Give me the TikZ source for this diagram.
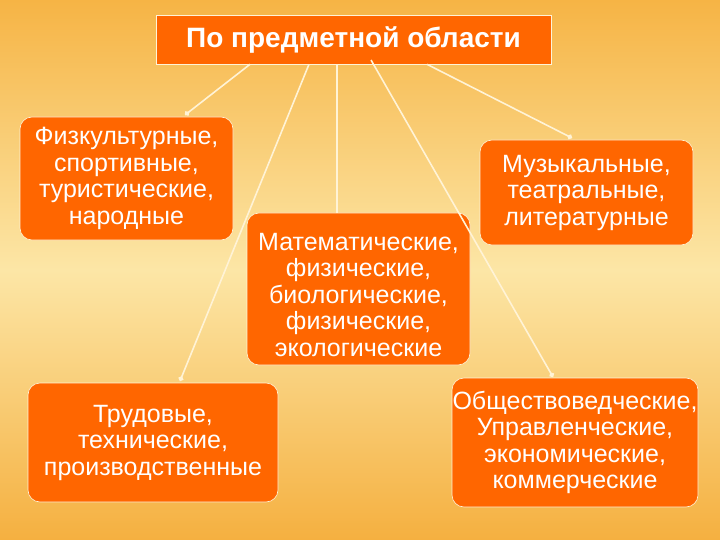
\documentclass[tikz,border=0pt]{standalone}
\usepackage{fontspec}
\setmainfont{Liberation Sans}
\usetikzlibrary{arrows.meta}
\definecolor{bgtop}{HTML}{F6B445}
\definecolor{bgmid}{HTML}{FCE6A6}
\definecolor{bgbot}{HTML}{F5B040}
\definecolor{boxor}{HTML}{FF6600}
\definecolor{lineC}{HTML}{FFF3D6}
\tikzset{
 box/.style={draw=lineC, line width=0.6pt, fill=boxor, rounded corners=12pt, text=white, align=center, font=\fontsize{25}{26.5}\selectfont, inner sep=0pt},
 conn/.style={draw=lineC, line width=1.6pt, -{Circle[length=5pt]}},
}
\begin{document}
\begin{tikzpicture}[x=1pt,y=-1pt]
\shade[top color=bgtop, bottom color=bgbot, middle color=bgmid] (0,0) rectangle (720,540);
\useasboundingbox (0,0) rectangle (720,540);
\node[box, rounded corners=0pt, minimum width=395pt, minimum height=49pt, font=\bfseries\fontsize{28}{30}\selectfont] (top) at (353.5,39.5) {По предметной области};
\node[box, minimum width=213pt, minimum height=123pt] (a) at (126.5,178.5) {Физкультурные,\\спортивные,\\туристические,\\народные};
\node[box, minimum width=223pt, minimum height=152pt] (b) at (358.5,289) {};
\node[box, draw=none, fill=none] (bt) at (358.5,295) {Математические,\\физические,\\биологические,\\физические,\\экологические};
\node[box, minimum width=213pt, minimum height=105pt] (c) at (586.5,192.5) {Музыкальные,\\театральные,\\литературные};
\node[box, minimum width=250pt, minimum height=119pt] (d) at (153,442.5) {Трудовые,\\технические,\\производственные};
\node[box, minimum width=246pt, minimum height=129pt] (e) at (575,442.5) {Обществоведческие,\\Управленческие,\\экономические,\\коммерческие};
\coordinate (a1) at (185,115);
\coordinate (d1) at (180,381);
\coordinate (e1) at (553,377);
\coordinate (c1) at (572,138);
\draw[conn] (top.south -| 250,0) -- (a1);
\draw[conn] (top.south -| 309,0) -- (d1);
\draw[draw=lineC, line width=1.6pt] (top.south -| 337,0) -- (b.north -| 337,0);
\draw[conn] (371,60) -- (e1);
\draw[conn] (top.south -| 427,0) -- (c1);
\end{tikzpicture}
\end{document}
